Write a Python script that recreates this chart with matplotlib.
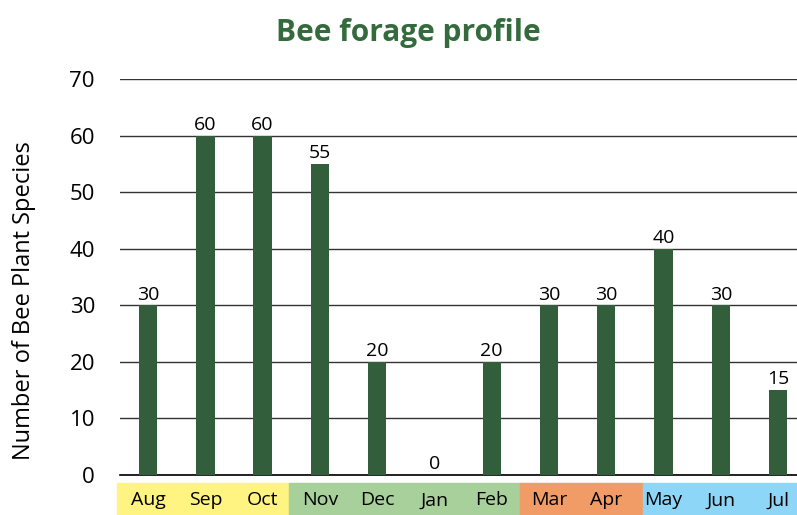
import matplotlib.pyplot as plt
from matplotlib.patches import Rectangle
import matplotlib.transforms as mtransforms

months = ['Aug', 'Sep', 'Oct', 'Nov', 'Dec', 'Jan', 'Feb', 'Mar', 'Apr', 'May', 'Jun', 'Jul']
species = [30, 60, 60, 55, 20, 0, 20, 30, 30, 40, 30, 15]
# seasons: number of months in each, colour
season_len = [3, 4, 2, 3]
season_colors = ['#FFF482', '#A7D09B', '#F19C67', '#8ED6F7']

plt.rcParams['font.family'] = ['Open Sans', 'DejaVu Sans']

fig = plt.figure(figsize=(7.97, 5.15), dpi=100)
ax = fig.add_axes([120 / 797, 40 / 515, 677 / 797, 396 / 515])

x = list(range(len(months)))
ax.bar(x, species, width=0.32, color='#335E3B', zorder=3)
for xi, v in zip(x, species):
    ax.text(xi, v + 0.3, str(v), ha='center', va='bottom', fontsize=14, color='black')

ax.set_xlim(-0.49, 11.33)
ax.set_ylim(0, 70)
ax.set_yticks(range(0, 71, 10))
ax.tick_params(axis='y', labelsize=16, length=0, pad=18)
ax.yaxis.grid(True, color='#333333', linewidth=1)
ax.set_axisbelow(True)
for s in ['left', 'right', 'top']:
    ax.spines[s].set_visible(False)
ax.spines['bottom'].set_color('black')
ax.spines['bottom'].set_linewidth(1.2)
ax.set_xticks([])
ax.set_ylabel('Number of Bee Plant Species', fontsize=17, va='center')
ax.yaxis.set_label_coords(-0.142, 0.44)

# season bands under the axis
trans = mtransforms.blended_transform_factory(ax.transData, ax.transAxes)
band_y0 = -0.02
band_h = -0.082
# small nudges so the band edges sit where the original artwork has them
nudge = [-0.05, -0.04, -0.01, 0.14, 0.4]
start = 0
edges = [start - 0.5 + nudge[0]]
for k, n in enumerate(season_len):
    start += n
    edges.append(start - 0.5 + nudge[k + 1])
for k, c in enumerate(season_colors):
    ax.add_patch(Rectangle((edges[k], band_y0), edges[k + 1] - edges[k], band_h,
                           transform=trans, color=c, clip_on=False, zorder=1))
for xi, m in zip(x, months):
    ax.text(xi, band_y0 + band_h / 2 - 0.003, m, transform=trans, ha='center', va='center',
            fontsize=14, color='black')

fig.text(0.512, 0.935, 'Bee forage profile', ha='center', va='center',
         fontsize=21.5, fontweight='bold', color='#336B3C')

fig.savefig('out.png', dpi=100)
